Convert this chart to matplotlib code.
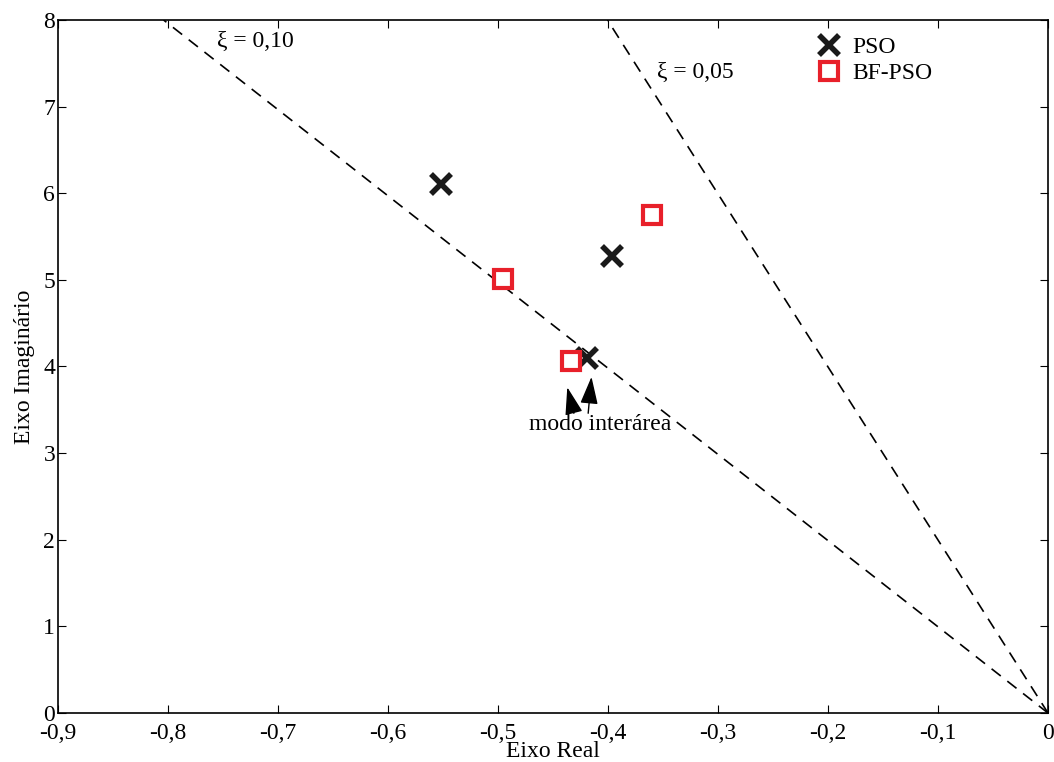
import numpy as np
import matplotlib
matplotlib.use('Agg')
import matplotlib.pyplot as plt

plt.rcParams['font.family'] = ['Liberation Serif', 'DejaVu Serif']

# polos estimados a partir da figura
pso_real = [-0.552, -0.396, -0.419]
pso_imag = [6.11, 5.28, 4.10]
bf_real = [-0.495, -0.360, -0.434]
bf_imag = [5.01, 5.75, 4.06]

xi_values = [0.10, 0.05]
x_ticks = [-0.9, -0.8, -0.7, -0.6, -0.5, -0.4, -0.3, -0.2, -0.1, 0]
x_labels = ['-0,9', '-0,8', '-0,7', '-0,6', '-0,5', '-0,4', '-0,3', '-0,2', '-0,1', '0']
y_ticks = [0, 1, 2, 3, 4, 5, 6, 7, 8]


def plot_chart():
    fig = plt.figure(figsize=(10.54, 7.62), dpi=100)
    ax = fig.add_axes([0.055, 0.0643, 0.9393, 0.9095])

    # linhas de amortecimento constante
    for xi in xi_values:
        slope = np.sqrt(1 - xi ** 2) / xi
        xs = np.array([0, -8 / slope])
        ax.plot(xs, -slope * xs, '--', color='black', lw=1.2, dashes=(7, 5))

    ax.plot(pso_real, pso_imag, 'x', color='#1a1a1a', ms=14, mew=4, label='PSO')
    ax.plot(bf_real, bf_imag, 's', mfc='white', mec='#e8202a', ms=13, mew=3,
            label='BF-PSO')

    ax.text(-0.755, 7.75, 'ξ = 0,10', fontsize=17, va='center')
    ax.text(-0.355, 7.39, 'ξ = 0,05', fontsize=17, va='center')

    # setas para o modo interarea
    arrow = dict(arrowstyle='-|>,head_length=1.7,head_width=0.55', color='black',
                 lw=1, mutation_scale=10, shrinkA=0, shrinkB=0)
    ax.annotate('', xy=(-0.437, 3.76), xytext=(-0.431, 3.46), arrowprops=arrow)
    ax.annotate('', xy=(-0.415, 3.88), xytext=(-0.418, 3.46), arrowprops=arrow)
    ax.text(-0.407, 3.33, 'modo interárea', fontsize=17, ha='center', va='center')

    ax.set_xlim(-0.9, 0)
    ax.set_ylim(0, 8)
    ax.set_xticks(x_ticks)
    ax.set_xticklabels(x_labels)
    ax.set_yticks(y_ticks)
    ax.tick_params(direction='in', top=True, right=True, labelsize=17,
                   length=6, width=0.8, pad=2)
    ax.tick_params(axis='x', pad=7)
    for s in ax.spines.values():
        s.set_linewidth(1.2)

    ax.set_xlabel('Eixo Real', fontsize=17, labelpad=-2)
    ax.set_ylabel('Eixo Imaginário', fontsize=17, labelpad=6)

    ax.legend(loc='upper right', bbox_to_anchor=(0.9, 1.0), frameon=False,
              fontsize=17, handlelength=1, handletextpad=0.5,
              borderaxespad=0.3, labelspacing=0.2, numpoints=1)

    fig.savefig('out.png', dpi=100)


if __name__ == '__main__':
    plot_chart()
